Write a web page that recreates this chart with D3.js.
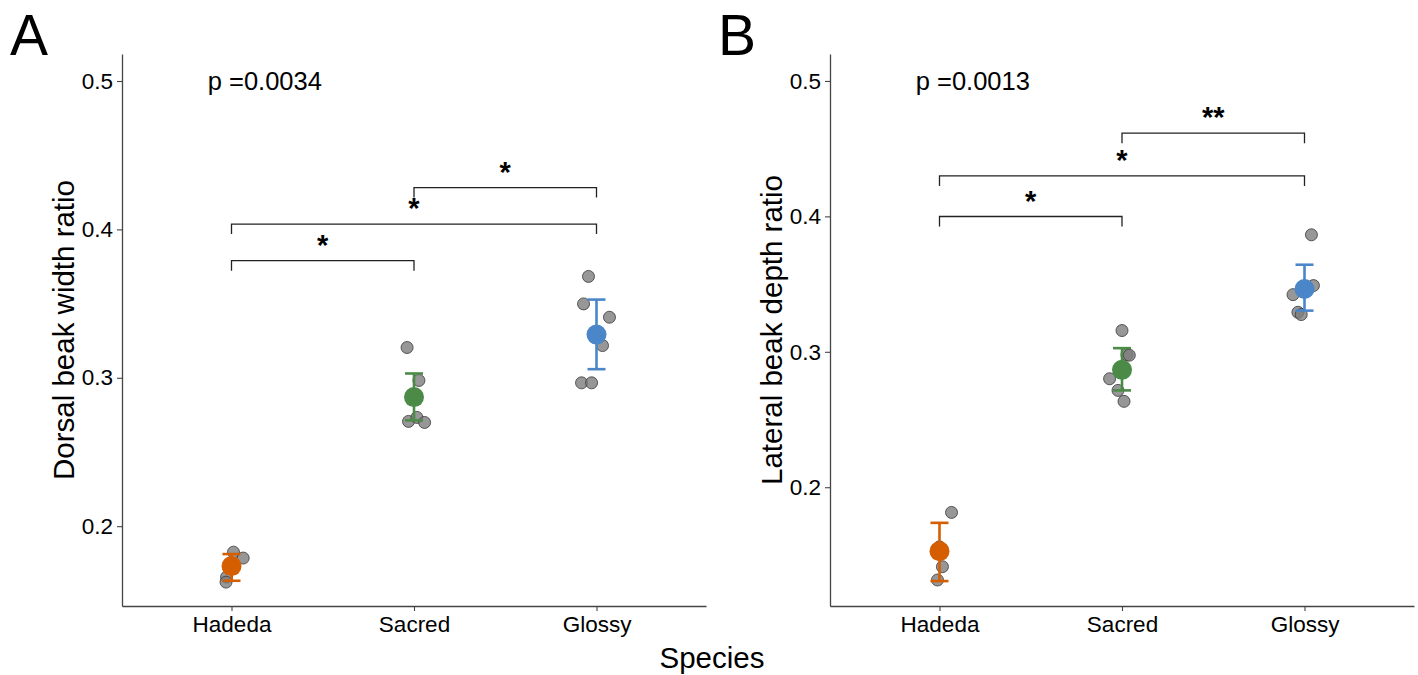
<!DOCTYPE html>
<html>
<head>
<meta charset="utf-8">
<script src="https://cdn.jsdelivr.net/npm/d3@7"></script>
<style>
  body { margin: 0; background: #fff; }
  svg { display: block; font-family: "Liberation Sans", Arial, sans-serif; }
</style>
</head>
<body>
<svg id="chart" width="1418" height="675"></svg>
<script>
// categories
const species = ["Hadeda", "Sacred", "Glossy"];
const speciesColors = ["#D55E00", "#4B8B47", "#4A86C8"];
const yTicks = [0.2, 0.3, 0.4, 0.5];

// panel A: dorsal beak width ratio  [species, value, jitter (category units)]
const dorsalPoints = [
  ["Hadeda", 0.1825, 0.011], ["Hadeda", 0.1785, 0.064], ["Hadeda", 0.1657, -0.027], ["Hadeda", 0.1623, -0.030],
  ["Sacred", 0.3204, -0.038], ["Sacred", 0.2982, 0.027], ["Sacred", 0.2706, -0.030], ["Sacred", 0.2733, 0.016], ["Sacred", 0.2699, 0.058],
  ["Glossy", 0.3683, -0.044], ["Glossy", 0.3498, -0.071], ["Glossy", 0.3408, 0.071], ["Glossy", 0.3217, 0.033], ["Glossy", 0.2966, -0.082], ["Glossy", 0.2966, -0.027]
];
const dorsalMean = [0.1731, 0.2870, 0.3291];
const dorsalLow = [0.1632, 0.2713, 0.3058];
const dorsalHigh = [0.1812, 0.3029, 0.3527];
const dorsalSig = [["Hadeda", "Sacred", 0.3789, "*"], ["Hadeda", "Glossy", 0.4036, "*"], ["Sacred", "Glossy", 0.4282, "*"]];
const dorsalP = "p =0.0034";

// panel B: lateral beak depth ratio
const lateralPoints = [
  ["Hadeda", 0.1814, 0.066], ["Hadeda", 0.1560, 0.000], ["Hadeda", 0.1413, 0.016], ["Hadeda", 0.1315, -0.011],
  ["Sacred", 0.3157, 0.000], ["Sacred", 0.2978, 0.027], ["Sacred", 0.2975, 0.040], ["Sacred", 0.2801, -0.068], ["Sacred", 0.2715, -0.022], ["Sacred", 0.2634, 0.011],
  ["Glossy", 0.3864, 0.038], ["Glossy", 0.3489, 0.049], ["Glossy", 0.3422, -0.063], ["Glossy", 0.3292, -0.036], ["Glossy", 0.3275, -0.018]
];
const lateralMean = [0.1528, 0.2867, 0.3464];
const lateralLow = [0.1307, 0.2715, 0.3304];
const lateralHigh = [0.1737, 0.3027, 0.3643];
const lateralSig = [["Hadeda", "Sacred", 0.3999, "*"], ["Hadeda", "Glossy", 0.4299, "*"], ["Sacred", "Glossy", 0.4614, "**"]];
const lateralP = "p =0.0013";

const svg = d3.select("#chart");
svg.append("rect").attr("width", 1418).attr("height", 675).attr("fill", "#fff");

const plotTop = 54, plotBottom = 606;

function drawPanel(opts) {
  const x = d3.scalePoint().domain(species).range([opts.left, opts.right]).padding(0.6);
  const y = d3.scaleLinear().domain(opts.domain).range([plotBottom, plotTop]);
  const step = x.step();
  const g = svg.append("g");

  // axes
  const yAxis = g.append("g")
    .attr("transform", `translate(${opts.left},0)`)
    .call(d3.axisLeft(y).tickValues(yTicks).tickFormat(d3.format(".1f")).tickSize(5).tickSizeOuter(0).tickPadding(4));
  const xAxis = g.append("g")
    .attr("transform", `translate(0,${plotBottom})`)
    .call(d3.axisBottom(x).tickSize(5).tickSizeOuter(0).tickPadding(5));
  [yAxis, xAxis].forEach(a => {
    a.select(".domain").attr("stroke", "#444").attr("stroke-width", 1.3);
    a.selectAll(".tick line").attr("stroke", "#444").attr("stroke-width", 1.1);
    a.selectAll(".tick text").attr("fill", "#000").style("font-size", "22.5px")
      .style("font-family", '"Liberation Sans", Arial, sans-serif');
  });

  // raw points
  g.append("g").selectAll("circle")
    .data(opts.points)
    .join("circle")
    .attr("cx", d => x(d[0]) + d[2] * step)
    .attr("cy", d => y(d[1]))
    .attr("r", 6)
    .attr("fill", "rgba(125,125,125,0.8)")
    .attr("stroke", "rgba(55,55,55,0.8)")
    .attr("stroke-width", 1);

  // mean + error bars
  const summary = species.map((s, i) => ({ s, m: opts.mean[i], lo: opts.low[i], hi: opts.high[i], c: speciesColors[i] }));
  const sg = g.append("g").selectAll("g").data(summary).join("g");
  sg.append("line")
    .attr("x1", d => x(d.s)).attr("x2", d => x(d.s))
    .attr("y1", d => y(d.lo)).attr("y2", d => y(d.hi))
    .attr("stroke", d => d.c).attr("stroke-width", 2.6);
  ["lo", "hi"].forEach(k => {
    sg.append("line")
      .attr("x1", d => x(d.s) - 9).attr("x2", d => x(d.s) + 9)
      .attr("y1", d => y(d[k])).attr("y2", d => y(d[k]))
      .attr("stroke", d => d.c).attr("stroke-width", 2.6);
  });
  sg.append("circle")
    .attr("cx", d => x(d.s)).attr("cy", d => y(d.m))
    .attr("r", 10).attr("fill", d => d.c);

  // significance brackets
  const br = g.append("g").selectAll("g").data(opts.sig).join("g");
  br.append("path")
    .attr("d", d => {
      const x1 = x(d[0]), x2 = x(d[1]), yy = y(d[2]);
      return `M${x1},${yy + 10}V${yy}H${x2}V${yy + 10}`;
    })
    .attr("fill", "none").attr("stroke", "#222").attr("stroke-width", 1.3);
  br.append("text")
    .attr("x", d => (x(d[0]) + x(d[1])) / 2)
    .attr("y", d => y(d[2]) - 6)
    .attr("text-anchor", "middle")
    .attr("fill", "#000")
    .style("font-size", "29px")
    .style("font-weight", "bold")
    .text(d => d[3]);

  // p value
  g.append("text")
    .attr("x", x("Hadeda") - 0.13 * step)
    .attr("y", y(0.5))
    .attr("dy", "0.36em")
    .attr("fill", "#000")
    .style("font-size", "25.5px")
    .text(opts.p);

  // y title
  g.append("text")
    .attr("transform", `translate(${opts.left - 48},${(plotTop + plotBottom) / 2}) rotate(-90)`)
    .attr("text-anchor", "middle")
    .attr("fill", "#000")
    .style("font-size", "29.5px")
    .text(opts.title);

  // panel letter
  g.append("text")
    .attr("x", opts.left - 112)
    .attr("y", 55)
    .attr("fill", "#000")
    .style("font-size", "57px")
    .text(opts.letter);
}

drawPanel({ left: 122, right: 706, domain: [0.1462, 0.5182], points: dorsalPoints, mean: dorsalMean, low: dorsalLow, high: dorsalHigh,
  sig: dorsalSig, p: dorsalP, title: "Dorsal beak width ratio", letter: "A" });
drawPanel({ left: 830, right: 1414, domain: [0.1123, 0.5199], points: lateralPoints, mean: lateralMean, low: lateralLow, high: lateralHigh,
  sig: lateralSig, p: lateralP, title: "Lateral beak depth ratio", letter: "B" });

svg.append("text")
  .attr("x", 712).attr("y", 668)
  .attr("text-anchor", "middle")
  .attr("fill", "#000")
  .style("font-size", "29.5px")
  .text("Species");
</script>
</body>
</html>
